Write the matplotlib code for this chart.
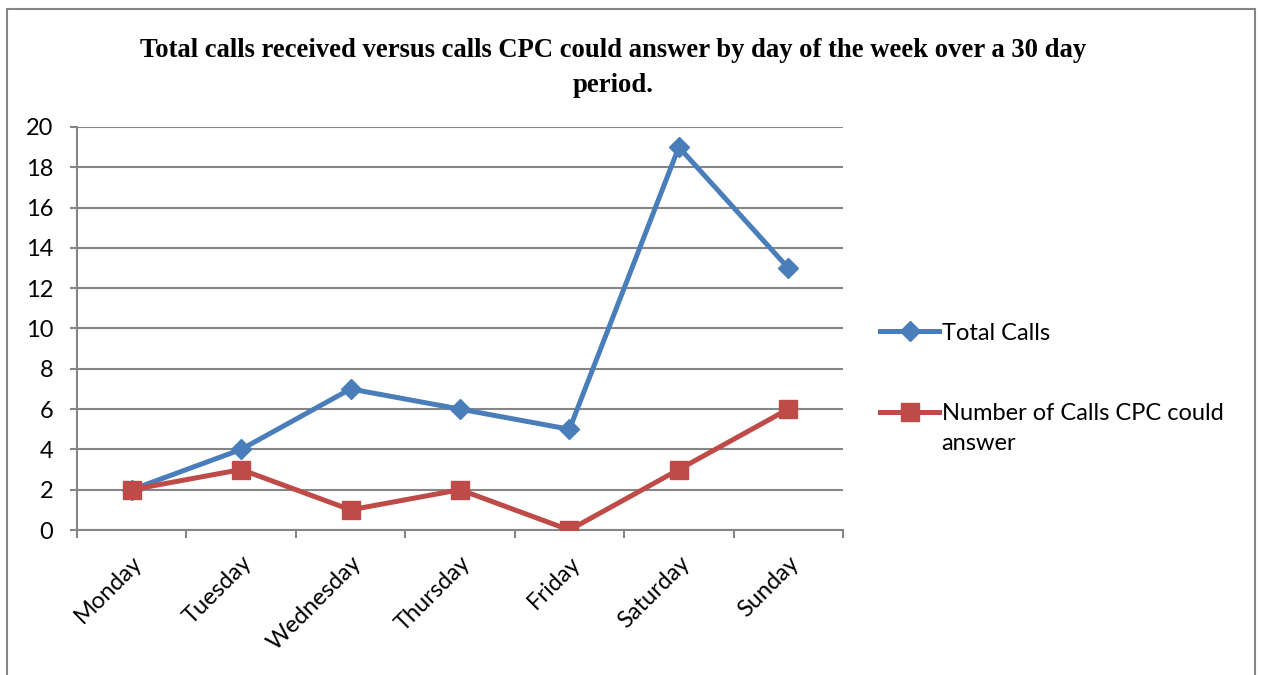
import matplotlib
matplotlib.use('Agg')
import matplotlib.pyplot as plt
from matplotlib.patches import Rectangle

# data
days = ['Monday', 'Tuesday', 'Wednesday', 'Thursday', 'Friday', 'Saturday', 'Sunday']
total_calls = [2, 4, 7, 6, 5, 19, 13]
cpc_answered = [2, 3, 1, 2, 0, 3, 6]
yticks = [0, 2, 4, 6, 8, 10, 12, 14, 16, 18, 20]

plt.rcParams['font.family'] = ['Lato', 'DejaVu Sans']
grey = '#868686'
fs = 17

fig = plt.figure(figsize=(12.61, 6.75), dpi=100)
ax = fig.add_axes([0.0611, 0.2148, 0.6074, 0.5971])

# outer chart border (bottom edge falls outside the image)
fig.patches.append(Rectangle((0.0056, -0.05), 0.9897, 1.036,
                             transform=fig.transFigure, fill=False,
                             edgecolor=grey, linewidth=1.5))

x = list(range(len(days)))
ax.plot(x, total_calls, color='#4A7EBB', lw=3.6, marker='D', ms=10.5,
        label='Total Calls', zorder=3)
ax.plot(x, cpc_answered, color='#BE4B48', lw=3.6, marker='s', ms=13,
        label='Number of Calls CPC could', zorder=3)

ax.set_xlim(-0.5, len(days) - 0.5)
ax.set_ylim(0, 20)
ax.set_yticks(yticks)
ax.yaxis.grid(True, color=grey, lw=1.5)
ax.set_axisbelow(True)
ax.tick_params(axis='y', length=5, width=1.5, color=grey, labelsize=fs, pad=12)

ax.set_xticks(x)
ax.set_xticklabels(days, rotation=45, ha='right', rotation_mode='anchor')
ax.set_xticks([i - 0.5 for i in range(len(days) + 1)], minor=True)
ax.tick_params(axis='x', which='major', length=0, labelsize=fs, pad=16)
ax.tick_params(axis='x', which='minor', length=6, width=1.5, color=grey)

for s in ['top', 'right']:
    ax.spines[s].set_visible(False)
for s in ['left', 'bottom']:
    ax.spines[s].set_color(grey)
    ax.spines[s].set_linewidth(1.5)

fig.text(0.486, 0.899, 'Total calls received versus calls CPC could answer by day of the week over a 30 day\nperiod.',
         ha='center', va='center', fontsize=19.2, fontweight='bold',
         family='Liberation Serif', linespacing=1.56)

leg = ax.legend(loc='center left', bbox_to_anchor=(0.698, 0.447), bbox_transform=fig.transFigure,
                frameon=False, fontsize=fs, handlelength=2.5, handletextpad=0.1,
                labelspacing=2.5, borderaxespad=0, borderpad=0)

# second line of the wrapped legend label
fig.canvas.draw()
bb = leg.get_texts()[1].get_window_extent().transformed(fig.transFigure.inverted())
fig.text(bb.x0, bb.y0 - 0.014, 'answer', ha='left', va='top', fontsize=fs)

plt.savefig('out.png', dpi=100)
